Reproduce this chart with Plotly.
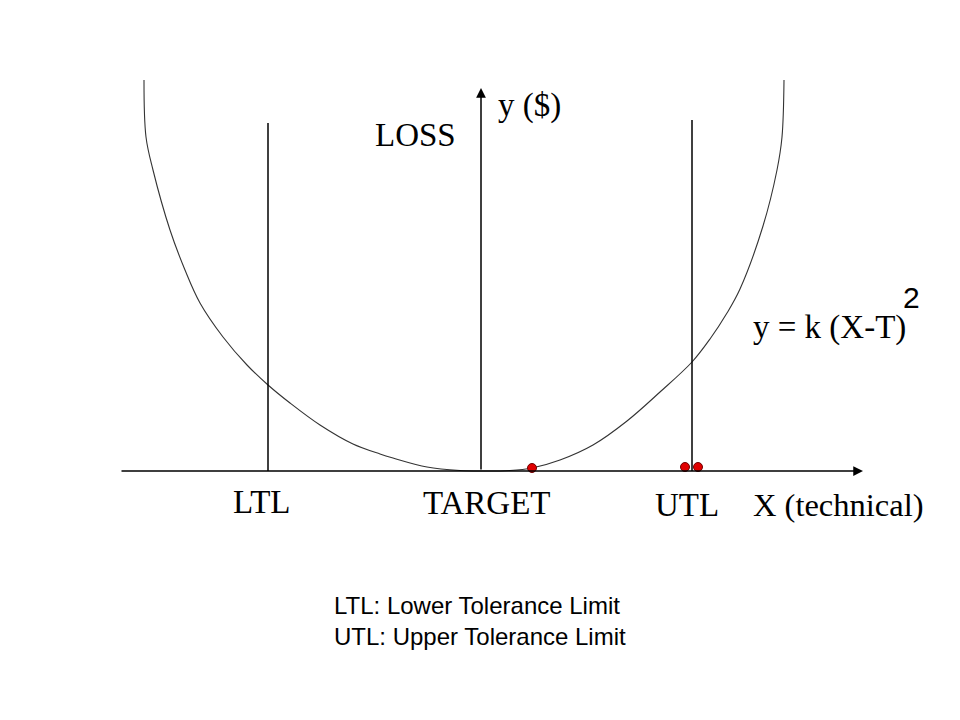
import plotly.graph_objects as go

# Loss curve (X relative to target, loss above baseline)
curve_x = [-337, -335, -328, -311, -296, -281, -258, -234, -213, -191, -161, -128, -101, -88, -54, -21, 0,
           29, 51, 79, 112, 146, 179, 211, 229, 246, 259, 282, 296, 301, 303]
curve_y = [391, 334, 301, 241, 201, 168, 134, 106, 86, 68, 46, 27, 17, 13, 4, 0.5, 0,
           0.5, 3, 11, 26, 50, 79, 109, 132, 158, 182, 245, 301, 334, 391]

target = 0
ltl = -213
utl = 211
ltl_top = 348
utl_top = 351
x_axis_start = -361
x_axis_end = 382
y_axis_end = 383

points_x = [51, 204, 217]
points_y = [3, 4, 4]

SERIF = "Liberation Serif, Times New Roman, serif"
SANS = "Liberation Sans, Arial, sans-serif"

fig = go.Figure()

fig.add_trace(go.Scatter(x=curve_x, y=curve_y, mode="lines",
                         line=dict(color="#333333", width=1.1, shape="spline", smoothing=1.0),
                         hoverinfo="skip"))
fig.add_trace(go.Scatter(x=[ltl, ltl], y=[0, ltl_top], mode="lines",
                         line=dict(color="black", width=1.5), hoverinfo="skip"))
fig.add_trace(go.Scatter(x=[utl, utl], y=[0, utl_top], mode="lines",
                         line=dict(color="black", width=1.5), hoverinfo="skip"))
fig.add_trace(go.Scatter(x=points_x, y=points_y, mode="markers",
                         marker=dict(color="#e00000", size=9, line=dict(color="#700000", width=1)),
                         hoverinfo="skip"))

annotations = [
    # axes arrows
    dict(x=x_axis_end, y=0, ax=x_axis_start, ay=0, xref="x", yref="y", axref="x", ayref="y",
         showarrow=True, arrowhead=2, arrowsize=1.3, arrowwidth=1.5, arrowcolor="black", text=""),
    dict(x=target, y=y_axis_end, ax=target, ay=0, xref="x", yref="y", axref="x", ayref="y",
         showarrow=True, arrowhead=2, arrowsize=1.3, arrowwidth=1.5, arrowcolor="black", text=""),
    # labels
    dict(x=-220, y=-31, text="LTL", font=dict(family=SERIF, size=33, color="black"), xanchor="center", yanchor="middle"),
    dict(x=6, y=-32, text="TARGET", font=dict(family=SERIF, size=33, color="black"), xanchor="center", yanchor="middle"),
    dict(x=206, y=-34, text="UTL", font=dict(family=SERIF, size=33, color="black"), xanchor="center", yanchor="middle"),
    dict(x=270, y=-34, text="X (technical)", font=dict(family=SERIF, size=32.5, color="black"), xanchor="left", yanchor="middle"),
    dict(x=-108, y=336, text="LOSS", font=dict(family=SERIF, size=33, color="black"), xanchor="left", yanchor="middle"),
    dict(x=15, y=366, text="y ($)", font=dict(family=SERIF, size=33, color="black"), xanchor="left", yanchor="middle"),
    dict(x=270, y=144, text="y = k (X-T)", font=dict(family=SERIF, size=33, color="black"), xanchor="left", yanchor="middle"),
    dict(x=430, y=174, text="2", font=dict(family=SANS, size=30, color="black"), xanchor="center", yanchor="middle"),
    dict(x=-149, y=-150, text="LTL: Lower Tolerance Limit<br>UTL: Upper Tolerance Limit",
         font=dict(family=SANS, size=24, color="black"), xanchor="left", yanchor="middle", align="left"),
]
for a in annotations:
    a.setdefault("showarrow", False)
    fig.add_annotation(**a)

fig.update_layout(
    width=960, height=720, autosize=False,
    margin=dict(l=0, r=0, t=0, b=0),
    paper_bgcolor="white", plot_bgcolor="white",
    showlegend=False,
    xaxis=dict(range=[-481, 479], visible=False, fixedrange=True),
    yaxis=dict(range=[-249, 471], visible=False, fixedrange=True),
)

fig.write_html("out.html", config={"displayModeBar": False, "staticPlot": True},
               post_script="document.body.style.margin='0';document.body.style.overflow='hidden';")
